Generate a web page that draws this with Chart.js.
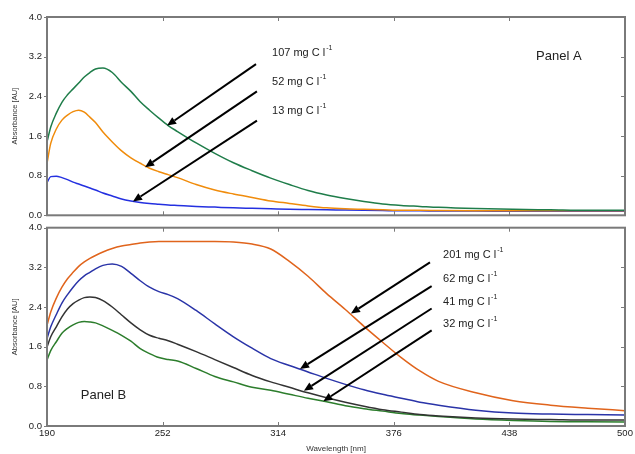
<!DOCTYPE html>
<html>
<head>
<meta charset="utf-8">
<script src="https://cdn.jsdelivr.net/npm/chart.js@4.4.1/dist/chart.umd.min.js"></script>
<style>
  body { margin: 0; background: #fff; }
  #wrap { position: relative; width: 635px; height: 454px; }
  #topBox { position: absolute; left: 0; top: 0; }
  #botBox { position: absolute; left: 0; top: 217px; }
</style>
</head>
<body>
<div id="wrap">
  <div id="topBox"><canvas id="panelA" width="635" height="226"></canvas></div>
  <div id="botBox"><canvas id="panelB" width="635" height="237"></canvas></div>
</div>
<script>
// wavelength grid (nm) shared by all curves
const wavelength = [190, 192, 195, 198, 201, 204, 207, 210, 213, 216, 220, 225, 230, 235, 240, 245, 250, 255, 260,
  270, 280, 290, 300, 310, 320, 330, 340, 350, 360, 370, 380, 390, 400, 420, 440, 460, 480, 500];

// Panel A absorbance
const a107 = [1.48, 1.78, 2.06, 2.28, 2.43, 2.55, 2.67, 2.79, 2.88, 2.95, 2.97, 2.88, 2.68, 2.50, 2.29, 2.12, 1.96, 1.81, 1.69,
  1.46, 1.25, 1.06, 0.90, 0.75, 0.62, 0.50, 0.41, 0.34, 0.28, 0.23, 0.20, 0.18, 0.16, 0.135, 0.12, 0.11, 0.10, 0.10];
const a52 = [1.05, 1.45, 1.74, 1.92, 2.02, 2.09, 2.12, 2.08, 1.98, 1.87, 1.68, 1.48, 1.30, 1.16, 1.05, 0.95, 0.88, 0.82, 0.76,
  0.62, 0.51, 0.43, 0.36, 0.29, 0.24, 0.19, 0.15, 0.13, 0.12, 0.11, 0.10, 0.10, 0.095, 0.09, 0.09, 0.09, 0.09, 0.09];
const a13 = [0.66, 0.78, 0.79, 0.76, 0.72, 0.67, 0.63, 0.59, 0.55, 0.51, 0.45, 0.39, 0.33, 0.29, 0.26, 0.24, 0.225, 0.21, 0.20,
  0.18, 0.165, 0.15, 0.14, 0.13, 0.12, 0.115, 0.11, 0.105, 0.10, 0.095, 0.09, 0.09, 0.085, 0.085, 0.08, 0.08, 0.08, 0.08];

// Panel B absorbance
const b201 = [2.03, 2.30, 2.58, 2.80, 2.97, 3.10, 3.22, 3.31, 3.38, 3.44, 3.51, 3.58, 3.63, 3.66, 3.69, 3.71, 3.72, 3.72, 3.72,
  3.72, 3.72, 3.71, 3.67, 3.57, 3.32, 3.02, 2.67, 2.35, 2.01, 1.69, 1.38, 1.11, 0.90, 0.67, 0.51, 0.42, 0.36, 0.31];
const b62 = [1.76, 2.00, 2.25, 2.48, 2.65, 2.80, 2.93, 3.03, 3.10, 3.17, 3.24, 3.27, 3.22, 3.08, 2.93, 2.80, 2.71, 2.65, 2.57,
  2.33, 2.06, 1.80, 1.57, 1.36, 1.22, 1.09, 0.96, 0.84, 0.73, 0.64, 0.56, 0.48, 0.42, 0.32, 0.26, 0.24, 0.23, 0.22];
const b41 = [1.59, 1.80, 2.00, 2.20, 2.36, 2.47, 2.54, 2.59, 2.60, 2.59, 2.53, 2.40, 2.24, 2.08, 1.94, 1.83, 1.77, 1.72, 1.65,
  1.50, 1.34, 1.18, 1.02, 0.89, 0.78, 0.67, 0.57, 0.48, 0.40, 0.33, 0.28, 0.23, 0.20, 0.16, 0.14, 0.13, 0.12, 0.12];
const b32 = [1.33, 1.52, 1.70, 1.87, 1.97, 2.04, 2.09, 2.11, 2.10, 2.08, 2.02, 1.93, 1.83, 1.71, 1.56, 1.46, 1.38, 1.34, 1.31,
  1.16, 1.00, 0.89, 0.78, 0.72, 0.64, 0.56, 0.49, 0.41, 0.35, 0.30, 0.25, 0.22, 0.19, 0.14, 0.11, 0.09, 0.085, 0.08];

const xTicks = [190, 252, 314, 376, 438, 500];
const yTicks = [0, 0.8, 1.6, 2.4, 3.2, 4.0];

// arrows: [fromX, fromY, toX, toY] in data units
const arrowsA = [[302.1, 3.05, 254.4, 1.81], [302.6, 2.50, 242.6, 0.97], [302.6, 1.91, 236.1, 0.28]];
const arrowsB = [[395.4, 3.30, 353.0, 2.27], [396.3, 2.82, 325.7, 1.15], [396.3, 2.37, 327.8, 0.71], [396.3, 1.93, 338.2, 0.50]];

// labels: [x, y, text, superscript]
const notesA = [[310.7, 3.27, '107 mg C l', '-1'], [310.7, 2.69, '52 mg C l', '-1'], [310.7, 2.11, '13 mg C l', '-1'],
  [452.3, 3.21, 'Panel A', '']];
const notesB = [[402.4, 3.44, '201 mg C l', '-1'], [402.4, 2.97, '62 mg C l', '-1'], [402.4, 2.51, '41 mg C l', '-1'],
  [402.4, 2.05, '32 mg C l', '-1'], [208.1, 0.62, 'Panel B', '']];

const FONT = 'Arial, "Liberation Sans", sans-serif';

function overlay(arrows, notes) {
  return {
    id: 'overlay',
    afterDatasetsDraw(chart) {
      const {ctx, chartArea: a, scales: {x, y}} = chart;
      ctx.save();
      // frame
      ctx.strokeStyle = '#7a7a7a';
      ctx.lineWidth = 2;
      ctx.strokeRect(a.left, a.top, a.right - a.left, a.bottom - a.top);
      ctx.lineWidth = 1;
      ctx.beginPath();
      xTicks.slice(1, -1).forEach(v => {
        const px = Math.round(x.getPixelForValue(v)) + 0.5;
        ctx.moveTo(px, a.top); ctx.lineTo(px, a.top + 4);
        ctx.moveTo(px, a.bottom); ctx.lineTo(px, a.bottom - 4);
      });
      yTicks.slice(1, -1).forEach(v => {
        const py = Math.round(y.getPixelForValue(v)) + 0.5;
        ctx.moveTo(a.right, py); ctx.lineTo(a.right - 4, py);
      });
      yTicks.forEach(v => {
        const py = Math.round(y.getPixelForValue(v)) + 0.5;
        ctx.moveTo(a.left, py); ctx.lineTo(a.left - 3, py);
      });
      ctx.stroke();

      // arrows
      ctx.strokeStyle = '#000';
      ctx.fillStyle = '#000';
      ctx.lineWidth = 2;
      arrows.forEach(([x0, y0, x1, y1]) => {
        const sx = x.getPixelForValue(x0), sy = y.getPixelForValue(y0);
        const ex = x.getPixelForValue(x1), ey = y.getPixelForValue(y1);
        const ang = Math.atan2(ey - sy, ex - sx);
        const hl = 9, hw = 4;
        const bx = ex - hl * Math.cos(ang), by = ey - hl * Math.sin(ang);
        ctx.beginPath();
        ctx.moveTo(sx, sy); ctx.lineTo(bx, by);
        ctx.stroke();
        ctx.beginPath();
        ctx.moveTo(ex, ey);
        ctx.lineTo(bx + hw * Math.sin(ang), by - hw * Math.cos(ang));
        ctx.lineTo(bx - hw * Math.sin(ang), by + hw * Math.cos(ang));
        ctx.closePath();
        ctx.fill();
      });

      // labels
      ctx.fillStyle = '#222';
      ctx.textBaseline = 'middle';
      ctx.textAlign = 'left';
      notes.forEach(([nx, ny, text, sup]) => {
        const px = x.getPixelForValue(nx), py = y.getPixelForValue(ny);
        ctx.font = (sup ? '11px ' : '13px ') + FONT;
        ctx.fillText(text, px, py);
        if (sup) {
          const w = ctx.measureText(text).width;
          ctx.font = '7px ' + FONT;
          ctx.fillText(sup, px + w + 1, py - 5);
        }
      });
      ctx.restore();
    }
  };
}

function makeChart(id, series, arrows, notes, bottomPanel) {
  return new Chart(document.getElementById(id), {
    type: 'line',
    data: {
      datasets: series.map(s => ({
        data: wavelength.map((w, i) => ({x: w, y: s.values[i]})),
        borderColor: s.color,
        borderWidth: 1.5,
        pointRadius: 0,
        cubicInterpolationMode: 'monotone',
        fill: false
      }))
    },
    options: {
      responsive: false,
      animation: false,
      layout: {padding: bottomPanel ? {top: 3, right: 10, left: 0, bottom: 0} : {top: 17, right: 10, left: 0, bottom: 8}},
      plugins: {legend: {display: false}, tooltip: {enabled: false}},
      scales: {
        x: {
          type: 'linear', min: 190, max: 500,
          display: bottomPanel,
          afterBuildTicks: s => { s.ticks = xTicks.map(v => ({value: v})); },
          ticks: {display: bottomPanel, color: '#222', font: {family: FONT, size: 9.5}, padding: 2, maxRotation: 0},
          grid: {display: false, drawTicks: false},
          border: {display: false},
          title: {display: bottomPanel, text: 'Wavelength [nm]', color: '#333', font: {family: FONT, size: 8}, padding: {top: 0, bottom: 0}},
          afterFit: s => { s.height = bottomPanel ? 28 : 0; }
        },
        y: {
          min: 0, max: 4,
          afterBuildTicks: s => { s.ticks = yTicks.map(v => ({value: v})); },
          ticks: {color: '#222', font: {family: FONT, size: 9.5}, padding: 5, callback: v => v.toFixed(1)},
          grid: {display: false, drawTicks: false},
          border: {display: false},
          title: {display: true, text: 'Absorbance [AU]', color: '#333', font: {family: FONT, size: 7.5}, padding: {top: 10, bottom: 0}},
          afterFit: s => { s.width = 47; }
        }
      }
    },
    plugins: [overlay(arrows, notes)]
  });
}

makeChart('panelA', [
  {values: a107, color: '#1f7d4a'},
  {values: a52, color: '#f08c0c'},
  {values: a13, color: '#2430e0'}
], arrowsA, notesA, false);

makeChart('panelB', [
  {values: b201, color: '#e0641c'},
  {values: b62, color: '#2a34a8'},
  {values: b41, color: '#333333'},
  {values: b32, color: '#2c7d2c'}
], arrowsB, notesB, true);
</script>
</body>
</html>
